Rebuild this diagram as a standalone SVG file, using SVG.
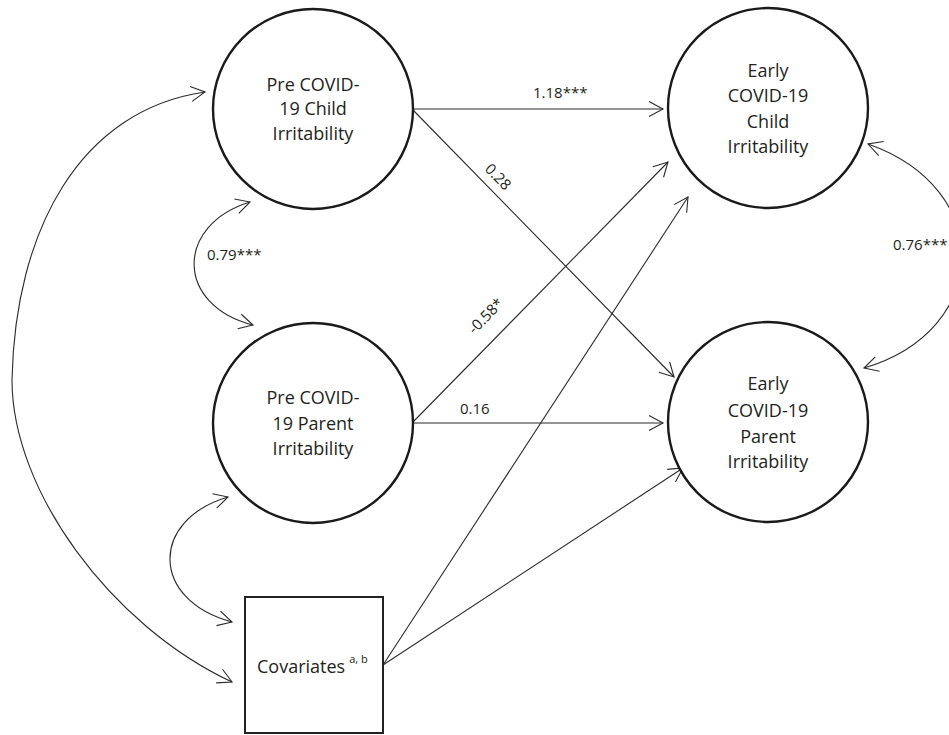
<svg xmlns="http://www.w3.org/2000/svg" width="949" height="735" viewBox="0 0 949 735">
<style>
.node{fill:#fff;stroke:#1a1a1a;stroke-width:2.4}
.box{fill:#fff;stroke:#222;stroke-width:2}
.t{font-family:"Open Sans","Liberation Sans",sans-serif;font-size:18px;fill:#231f20;text-anchor:middle}
.ts{font-family:"Open Sans","Liberation Sans",sans-serif;font-size:18px;fill:#231f20;text-anchor:start}
.lbl{font-family:"Open Sans","Liberation Sans",sans-serif;font-size:15px;fill:#231f20}
.rot{text-anchor:middle}
.c{fill:none;stroke:#2b2b2b;stroke-width:1.1}
</style>
<defs>
<marker id="ah" markerUnits="userSpaceOnUse" markerWidth="20" markerHeight="20" viewBox="-16 -10 20 20" refX="0" refY="0" orient="auto-start-reverse">
<path d="M-14,-7.5 L0,0 L-14,7.5" fill="none" stroke="#2b2b2b" stroke-width="1.1"/>
</marker>
</defs>
<rect width="949" height="735" fill="#fff"/>
<g id="connectors">
<path class="c" d="M413,109 L663,109" marker-end="url(#ah)"/>
<path class="c" d="M413,110 L674,377" marker-end="url(#ah)"/>
<path class="c" d="M413,422 L668,162" marker-end="url(#ah)"/>
<path class="c" d="M413,423 L663,423" marker-end="url(#ah)"/>
<path class="c" d="M383,665 L688,197" marker-end="url(#ah)"/>
<path class="c" d="M383,665 L683,468" marker-end="url(#ah)"/>
<path class="c" d="M250,202 C175,225 175,305 253,325" marker-start="url(#ah)" marker-end="url(#ah)"/>
<path class="c" d="M228,497 C150,520 150,600 232,622" marker-start="url(#ah)" marker-end="url(#ah)"/>
<path class="c" d="M205,92 C80,110 15,230 12,380 C12,490 110,625 232,682" marker-start="url(#ah)" marker-end="url(#ah)"/>
<path class="c" d="M868,144 C996,189 992,330 864,368" marker-start="url(#ah)" marker-end="url(#ah)"/>
<text class="lbl" x="533" y="98">1.18***</text>
<text class="lbl rot" x="498" y="182" transform="rotate(45.7 498 177)">0.28</text>
<text class="lbl rot" x="486" y="321" transform="rotate(-45.6 486 316)">-0.58*</text>
<text class="lbl" x="460" y="414">0.16</text>
<text class="lbl" x="207" y="260">0.79***</text>
<text class="lbl" x="893" y="250">0.76***</text>
</g>
<g id="pre-child">
<circle class="node" cx="313" cy="109" r="100"/>
<text class="t" x="313" y="91">Pre COVID-</text>
<text class="t" x="313" y="115">19 Child</text>
<text class="t" x="313" y="140">Irritability</text>
</g>
<g id="early-child">
<circle class="node" cx="768" cy="108" r="100"/>
<text class="t" x="768" y="77">Early</text>
<text class="t" x="768" y="102">COVID-19</text>
<text class="t" x="768" y="128">Child</text>
<text class="t" x="768" y="153">Irritability</text>
</g>
<g id="pre-parent">
<circle class="node" cx="313" cy="423" r="100"/>
<text class="t" x="313" y="404">Pre COVID-</text>
<text class="t" x="313" y="430">19 Parent</text>
<text class="t" x="313" y="455">Irritability</text>
</g>
<g id="early-parent">
<circle class="node" cx="768" cy="422" r="100"/>
<text class="t" x="768" y="390">Early</text>
<text class="t" x="768" y="417">COVID-19</text>
<text class="t" x="768" y="443">Parent</text>
<text class="t" x="768" y="468">Irritability</text>
</g>
<g id="covariates">
<rect class="box" x="245" y="597" width="138" height="136"/>
<text class="ts" x="257" y="673">Covariates<tspan font-size="11" dx="4" dy="-10">a, b</tspan></text>
</g>
</svg>
